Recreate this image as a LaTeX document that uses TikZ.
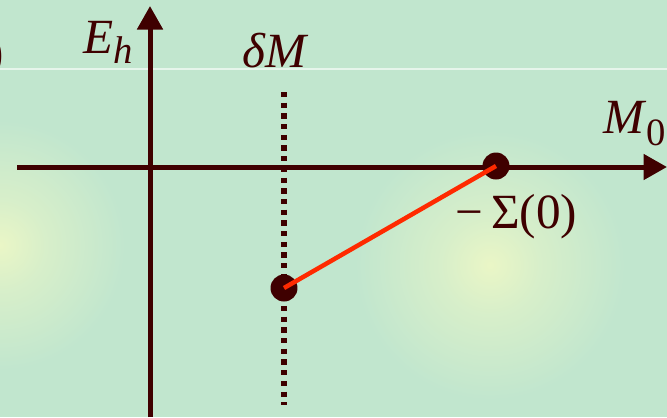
\documentclass[tikz,border=0pt]{standalone}
\usepackage{fontspec}
\setmainfont{Liberation Serif}
\usepackage{tikz}
\usetikzlibrary{arrows.meta,positioning,calc}

\definecolor{bggreen}{HTML}{C1E6CE}
\definecolor{glow}{HTML}{EAF6C6}
\definecolor{ink}{HTML}{3F0000}
\definecolor{hot}{HTML}{FF2A00}
\pgfdeclareradialshading{softglow}{\pgfpoint{0bp}{0bp}}{%
  color(0bp)=(glow); color(9bp)=(glow!55!bggreen); color(25bp)=(bggreen); color(50bp)=(bggreen)}

\begin{document}
\begin{tikzpicture}[
  x=0.02cm, y=-0.02cm,
  font=\fontsize{28}{32}\selectfont,
  axis/.style={draw=ink, line width=0.1cm, -{Triangle[length=0.47cm, width=0.5cm]}},
  dotline/.style={draw=ink, line width=0.105cm, dash pattern=on 0.105cm off 0.109cm},
  dot/.style={circle, fill=ink, minimum size=0.54cm, inner sep=0pt},
  redseg/.style={draw=hot, line width=0.09cm},
  lbl/.style={text=ink, inner sep=0pt, anchor=base west}
]
  \useasboundingbox (0,0) rectangle (667,417);
  % background with the two soft glows
  \fill[bggreen] (0,0) rectangle (667,417);
  \begin{scope}
    \clip (0,0) rectangle (667,417);
    \shade[shading=softglow] (0,245) circle (125);
    \shade[shading=softglow] (490,265) circle (135);
    \draw[white, opacity=0.6, line width=0.6pt] (0,69) -- (667,69);
    \node[lbl, anchor=base east] (cutparen) at (4,68) {)};
  \end{scope}

  % axes
  \coordinate (xstart) at (17,167);
  \coordinate (xend)   at (667,167);
  \coordinate (ybot)   at (150,417);
  \coordinate (ytop)   at (150,6);
  \draw[axis] (xstart) -- (xend);
  \draw[axis] (ybot) -- (ytop);

  % vertical dotted line at delta M
  \coordinate (dtop) at (284,92);
  \coordinate (dbot) at (284,405);
  \draw[dotline] (dtop) -- (dbot);

  % the two points and the segment joining them
  \node[dot] (sigma) at (496,166) {};
  \node[dot] (shift) at (284,288) {};
  \draw[redseg] (shift.center) -- (sigma.center);

  % labels
  \node[lbl] (eh)   at (83,53)   {\textit{E}\raisebox{-0.22em}{\fontsize{22}{24}\selectfont\textit{h}}};
  \node[lbl] (dm)   at (242,67)  {\textit{δM}};
  \node[lbl] (m0)   at (603,133) {\textit{M}\raisebox{-0.25em}{\fontsize{22}{24}\selectfont 0}};
  \node[lbl] (sig0) at (455,228) {−\,Σ(0)};
\end{tikzpicture}
\end{document}
